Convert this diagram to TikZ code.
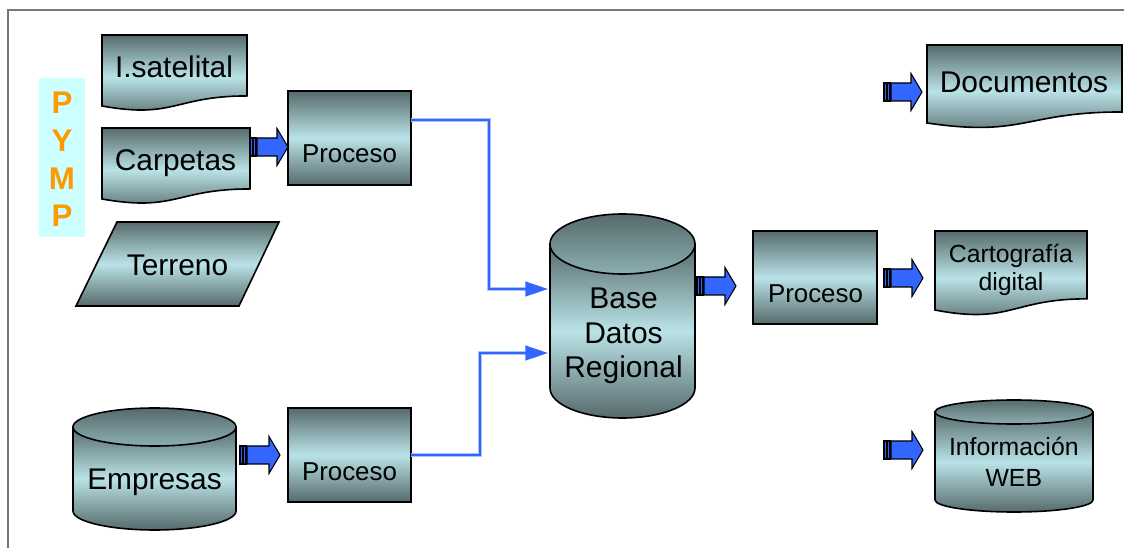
\documentclass[tikz,border=0pt]{standalone}
\usepackage{fontspec}
\setmainfont{Liberation Sans}
\usetikzlibrary{arrows.meta,calc,fit}
\definecolor{dk}{RGB}{86,106,108}
\definecolor{lt}{RGB}{186,227,231}
\definecolor{md}{RGB}{140,175,178}
\definecolor{ablue}{RGB}{51,102,255}
\definecolor{halo}{RGB}{170,195,255}
\definecolor{pyorange}{RGB}{255,153,0}
\definecolor{pybg}{RGB}{204,255,255}
\definecolor{framegray}{RGB}{120,120,120}
\tikzset{
  grad/.style={draw=black, line width=1.2pt, top color=dk, bottom color=dk, middle color=lt},
  hole/.style={inner sep=0pt, outer sep=0pt},
  conn/.style={draw=ablue, line width=1.7pt, -{Triangle[length=17pt,width=11pt]}},
  bigtxt/.style={anchor=base, inner sep=0pt, font=\fontsize{22.4}{26}\selectfont},
  proctxt/.style={anchor=base, inner sep=0pt, font=\fontsize{19.4}{23}\selectfont},
  midtxt/.style={anchor=base, inner sep=0pt, font=\fontsize{22.5}{26}\selectfont},
  smalltxt/.style={anchor=base, inner sep=0pt, font=\fontsize{18.6}{22}\selectfont},
  pytxt/.style={anchor=base, inner sep=0pt, text=pyorange, font=\bfseries\fontsize{23.5}{26}\selectfont},
  barstyle/.style={fill=ablue, draw=black, line width=0.8pt}
}
\newcommand\docshape[4]{%
  \pgfmathsetmacro\dxm{(#1+#2)/2}%
  \pgfmathsetmacro\dyr{#3+0.802*#4}%
  \pgfmathsetmacro\dyc{#3+1.107*#4}%
  \pgfmathsetmacro\dyl{#3+0.934*#4}%
  \path[grad] (#1,#3) -- (#2,#3) -- (#2,\dyr) .. controls (\dxm,\dyr) and (\dxm,\dyc) .. (#1,\dyl) -- cycle;
}
\newcommand\cylshape[5]{%
  \pgfmathsetmacro\ccx{(#1+#2)/2}%
  \pgfmathsetmacro\crx{(#2-#1)/2}%
  \pgfmathsetmacro\cyt{#3+#5}%
  \pgfmathsetmacro\cyb{#4-#5}%
  \pgfmathsetmacro\ckx{0.5523*\crx}%
  \pgfmathsetmacro\cky{\cyb+0.5523*#5}%
  \path[grad] (#1,\cyt) -- (#1,\cyb) .. controls (#1,\cky) and (\ccx-\ckx,#4) .. (\ccx,#4) .. controls (\ccx+\ckx,#4) and (#2,\cky) .. (#2,\cyb) -- (#2,\cyt) -- cycle;
  \path[draw=black, line width=1.2pt, top color=dk, bottom color=md] (\ccx,\cyt) ellipse [x radius=\crx, y radius=#5];
}
\newcommand\blockarrow[3]{% tail x, centre y, tip x
  \path[barstyle] (#1,#2-9) rectangle (#1+2.6,#2+9);
  \path[barstyle] (#1+3.8,#2-9) rectangle (#1+6,#2+9);
  \path[barstyle] (#1+7.2,#2-9) -- (#3-11,#2-9) -- (#3-11,#2-18.5) -- (#3,#2) -- (#3-11,#2+18.5) -- (#3-11,#2+9) -- (#1+7.2,#2+9) -- cycle;
}
\begin{document}
\begin{tikzpicture}[x=0.75pt,y=-0.75pt]
\useasboundingbox (0,0) rectangle (1124,548);
\fill[white] (0,0) rectangle (1124,548);
% frame
\draw[framegray, line width=0.8pt] (8,548) -- (8,10) -- (1124,10);

% PYMP
\node[fill=pybg, hole, fit={(39,78) (85,237)}] (pbg) {};
\node[pytxt] (py1) at (62,114) {P};
\node[pytxt] (py2) at (62,152) {Y};
\node[pytxt] (py3) at (62,190) {M};
\node[pytxt] (py4) at (62,227) {P};

% left inputs
\docshape{102}{247}{35}{76}
\node[hole, fit={(102,35) (247,106)}] (sat) {};
\node[bigtxt] (satt) at (174,78) {I.satelital};

\docshape{102}{250}{128}{76}
\node[hole, fit={(102,128) (250,199)}] (carp) {};
\node[bigtxt] (carpt) at (175.5,171) {Carpetas};

\path[grad] (117,222) -- (279,222) -- (239,306) -- (76,306) -- cycle;
\node[hole, fit={(76,222) (279,306)}] (terr) {};
\node[bigtxt] (terrt) at (177.5,276) {Terreno};

\cylshape{73}{236}{408}{530}{19}
\node[hole, fit={(73,408) (236,530)}] (emp) {};
\node[bigtxt] (empt) at (154.5,489) {Empresas};

% process boxes
\node[grad, hole, fit={(288,91) (411,185)}] (p1) {};
\node[proctxt] (p1t) at (349.5,163) {Proceso};
\node[grad, hole, fit={(288,408) (411,502)}] (p2) {};
\node[proctxt] (p2t) at (349.5,481) {Proceso};

% database
\cylshape{550}{695}{214}{418}{30}
\node[hole, fit={(550,214) (695,418)}] (db) {};
\node[midtxt] (dbt1) at (623.5,309) {Base};
\node[midtxt] (dbt2) at (623.5,344) {Datos};
\node[midtxt] (dbt3) at (623.5,378) {Regional};

\node[grad, hole, fit={(753,231) (877,324)}] (p3) {};
\node[proctxt] (p3t) at (815.5,303) {Proceso};

% outputs
\docshape{927}{1122}{45}{83.5}
\node[hole, fit={(927,45) (1122,123)}] (docs) {};
\node[midtxt] (docst) at (1024,93) {Documentos};

\docshape{935}{1087}{231}{84.6}
\node[hole, fit={(935,231) (1087,310)}] (cart) {};
\node[smalltxt] (cartt1) at (1011,263) {Cartografía};
\node[smalltxt] (cartt2) at (1011,291) {digital};

\cylshape{935}{1093}{400}{512}{12}
\node[hole, fit={(935,400) (1093,512)}] (web) {};
\node[smalltxt] (webt1) at (1013.8,456) {Información};
\node[smalltxt] (webt2) at (1013.8,486) {WEB};

% block arrows
\blockarrow{250}{147}{288}
\blockarrow{240}{455}{280}
\blockarrow{697}{286}{736}
\blockarrow{884}{92}{922}
\blockarrow{884}{278}{923}
\blockarrow{884}{450}{923}

% connectors (light halo under the blue line)
\draw[halo, line width=3pt] ($(p1.east)+(0,-18)$) -- ++(78,0) |- ($(db.west)+(-20,-27)$);
\draw[halo, line width=3pt] (p2.east) -- ++(69,0) |- ($(db.west)+(-20,37)$);
\draw[conn] ($(p1.east)+(0,-18)$) -- ++(78,0) |- ($(db.west)+(-2,-27)$);
\draw[conn] (p2.east) -- ++(69,0) |- ($(db.west)+(-2,37)$);
\end{tikzpicture}
\end{document}
